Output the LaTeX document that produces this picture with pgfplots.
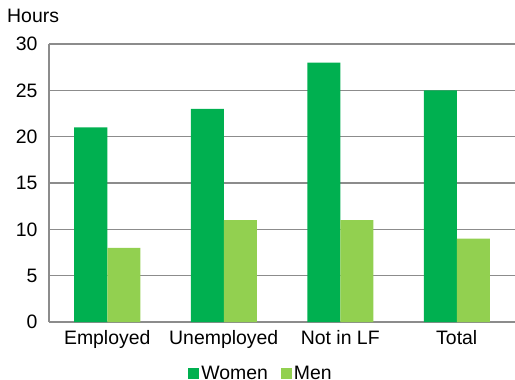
\documentclass[border=0pt]{standalone}
\usepackage{pgfplots}
\pgfplotsset{compat=1.18}
\usepackage{fontspec}
\setmainfont{Liberation Sans}
\definecolor{women}{HTML}{00B050}
\definecolor{men}{HTML}{92D050}
\definecolor{gridc}{HTML}{8C8C8C}
\begin{document}
\begin{tikzpicture}
\useasboundingbox (0,0) rectangle (515bp,380bp);
\begin{axis}[
  at={(49bp,58bp)}, anchor=south west,
  scale only axis, width=466bp, height=278bp,
  xmin=-0.5, xmax=3.5, ymin=0, ymax=30,
  ybar=0pt, bar width=33bp,
  xtick={0,1,2,3},
  xticklabels={Employed,Unemployed,Not in LF,Total},
  ytick={0,5,10,15,20,25,30},
  major tick length=0pt,
  ymajorgrids, grid style={gridc, line width=1.2bp},
  axis x line*=bottom, axis y line*=left,
  axis line style={gridc, line width=1.5bp, -},
  tick label style={font=\fontsize{19.5}{22}\selectfont},
  /pgf/number format/assume math mode=true,
  xticklabel style={yshift=-5bp},
  yticklabel style={xshift=-8bp},
  legend style={at={(0.455,-0.152)}, anchor=north, draw=none, font=\fontsize{19.5}{22}\selectfont, legend columns=2, inner sep=0pt, /tikz/every even column/.append style={column sep=11bp}},
  legend image code/.code={\fill[#1] (0bp,-5.5bp) rectangle (11bp,5.5bp);},
  clip=false,
]
\addplot[fill=women, draw=none] coordinates {(0,21) (1,23) (2,28) (3,25)};
\addplot[fill=men, draw=none] coordinates {(0,8) (1,11) (2,11) (3,9)};
\legend{Women,Men}
\end{axis}
\node[anchor=base west, inner sep=0pt, font=\fontsize{19.5}{22}\selectfont] at (7bp,357bp) {Hours};
\end{tikzpicture}
\end{document}
